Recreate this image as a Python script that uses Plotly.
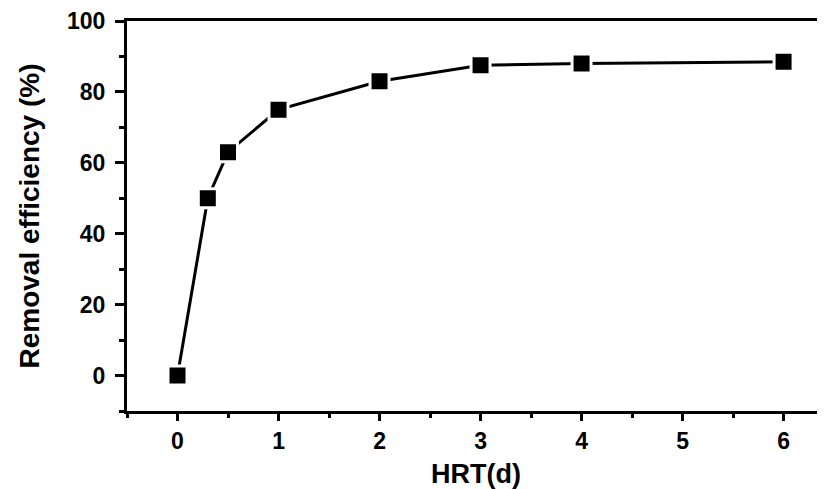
import plotly.graph_objects as go

hrt_days = [0, 0.3, 0.5, 1, 2, 3, 4, 6]
removal_eff = [0, 50, 63, 75, 83, 87.5, 88, 88.5]
x_ticks = [0, 1, 2, 3, 4, 5, 6]
y_ticks = [0, 20, 40, 60, 80, 100]

FONT = "Liberation Sans, Arial, sans-serif"

fig = go.Figure()
fig.add_trace(go.Scatter(
    x=hrt_days, y=removal_eff, mode="lines+markers",
    line=dict(color="black", width=3),
    marker=dict(symbol="square", size=19, color="black",
                line=dict(color="white", width=3)),
    showlegend=False, cliponaxis=False,
))

# page body has an 8px default margin, so the figure is sized to end at the window edge
fig.update_layout(
    width=817, height=481,
    margin=dict(l=119, r=0, t=13, b=78, autoexpand=False),
    paper_bgcolor="white", plot_bgcolor="white",
    font=dict(family=FONT, color="black"),
)
fig.update_xaxes(
    range=[-0.5, 6.41], tickvals=x_ticks, ticktext=[str(v) for v in x_ticks],
    automargin=False,
    showgrid=False, zeroline=False,
    showline=True, linecolor="black", linewidth=3, mirror=True,
    ticks="outside", ticklen=7, tickwidth=3, tickcolor="black",
    minor=dict(dtick=0.5, tick0=0, ticks="outside", ticklen=4, tickwidth=3, tickcolor="black"),
    tickfont=dict(family=FONT, size=23, color="black", weight="bold"),
    title=dict(text="<b>HRT(d)</b>", font=dict(family=FONT, size=27, color="black"), standoff=12),
)
fig.update_yaxes(
    range=[-10, 100], tickvals=y_ticks, ticktext=[str(v) for v in y_ticks],
    automargin=False,
    showgrid=False, zeroline=False,
    showline=True, linecolor="black", linewidth=3, mirror=False,
    ticks="outside", ticklen=9, tickwidth=3, tickcolor="black",
    ticklabelstandoff=5,
    minor=dict(dtick=10, tick0=-10, ticks="outside", ticklen=5, tickwidth=3, tickcolor="black"),
    tickfont=dict(family=FONT, size=23, color="black", weight="bold"),
    title=dict(text="<b>Removal efficiency (%)</b>", font=dict(family=FONT, size=28, color="black"), standoff=20),
)

fig.write_html("out.html")
